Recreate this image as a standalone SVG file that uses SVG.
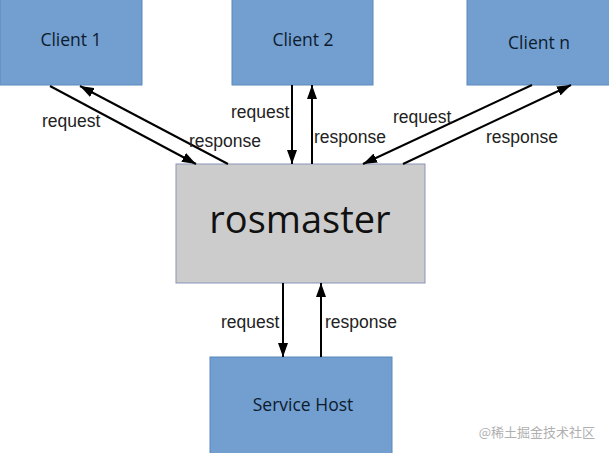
<svg xmlns="http://www.w3.org/2000/svg" width="609" height="453" viewBox="0 0 609 453">
<style>
.box{fill:#729fcf;stroke:#5b88bd;stroke-width:1}
.master{fill:#cccccc;stroke:#8a93b8;stroke-width:1}
.nt{font-family:"Open Sans","DejaVu Sans",sans-serif;font-size:17.5px;fill:#0d1b2e;text-anchor:middle}
.lbl{font-family:"Liberation Sans",Arial,sans-serif;font-size:17.5px;fill:#222}
.c{stroke:#000;stroke-width:2;fill:none;marker-end:url(#ah)}
</style>
<defs>
<marker id="ah" viewBox="0 0 14 10" refX="14" refY="5" markerWidth="14" markerHeight="10" markerUnits="userSpaceOnUse" orient="auto">
<path d="M0,0 L14,5 L0,10 z" fill="#000"/>
</marker>
</defs>
<rect width="609" height="453" fill="#fff"/>
<g id="client1"><rect class="box" x="0" y="-1" width="142" height="86"/><text class="nt" x="71" y="46">Client 1</text></g>
<g id="client2"><rect class="box" x="232" y="-1" width="141" height="86"/><text class="nt" x="303" y="46">Client 2</text></g>
<g id="clientn"><rect class="box" x="467" y="-1" width="143" height="86"/><text class="nt" x="539" y="49">Client n</text></g>
<g id="rosmaster"><rect class="master" x="176" y="164" width="249" height="119"/><text x="300" y="233" font-family="'Open Sans','DejaVu Sans',sans-serif" font-size="38" fill="#111" text-anchor="middle">rosmaster</text></g>
<g id="servicehost"><rect class="box" x="210" y="357" width="182" height="97"/><text class="nt" x="303" y="411">Service Host</text></g>
<g id="connectors">
<line class="c" x1="50" y1="86" x2="196" y2="164"/>
<line class="c" x1="228" y1="164" x2="80" y2="86"/>
<line class="c" x1="292" y1="85" x2="292" y2="164"/>
<line class="c" x1="312" y1="164" x2="312" y2="85"/>
<line class="c" x1="532" y1="85" x2="363" y2="164"/>
<line class="c" x1="403" y1="164" x2="571" y2="85"/>
<line class="c" x1="283" y1="283" x2="283" y2="357"/>
<line class="c" x1="321" y1="357" x2="321" y2="283"/>
<text class="lbl" x="42" y="127">request</text>
<text class="lbl" x="189" y="147">response</text>
<text class="lbl" x="231" y="118">request</text>
<text class="lbl" x="314" y="143">response</text>
<text class="lbl" x="393" y="123">request</text>
<text class="lbl" x="486" y="143">response</text>
<text class="lbl" x="221" y="328">request</text>
<text class="lbl" x="325" y="328">response</text>
</g>
<text x="595" y="437" font-family="'Noto Sans CJK SC',sans-serif" font-size="13" fill="#b0b0b0" text-anchor="end">@稀土掘金技术社区</text>
</svg>
